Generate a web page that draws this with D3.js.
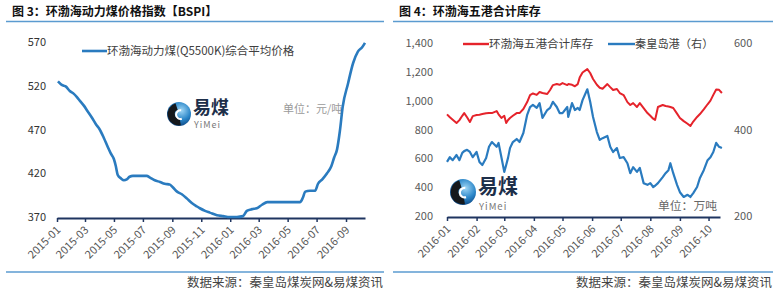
<!DOCTYPE html>
<html>
<head>
<meta charset="utf-8">
<script src="https://cdn.jsdelivr.net/npm/d3@7"></script>
<style>
  html, body { margin: 0; padding: 0; background: #fff; }
  svg { display: block; }
  text { font-family: "Noto Sans CJK SC", "Noto Sans", sans-serif; }
</style>
</head>
<body>
<svg id="chart" width="779" height="295"></svg>
<script>
// ---------------- DATA ----------------
// Figure 3: Bohai-Rim steam coal price index (BSPI), yuan/ton
const bspiDates = [
  "2015-01-03","2015-01-11","2015-01-20","2015-01-28","2015-02-05","2015-02-12","2015-02-18","2015-02-27",
  "2015-03-05","2015-03-15","2015-03-24","2015-04-01","2015-04-10","2015-04-18","2015-04-24","2015-05-01",
  "2015-05-05","2015-05-09","2015-05-16","2015-05-22","2015-05-28","2015-06-03","2015-06-10","2015-06-25",
  "2015-07-09","2015-07-16","2015-07-26","2015-08-06","2015-08-16","2015-08-27","2015-09-02","2015-09-11",
  "2015-09-21","2015-10-02","2015-10-12","2015-10-23","2015-10-29","2015-11-09","2015-11-19","2015-12-04",
  "2015-12-17","2015-12-31","2016-01-15","2016-01-28","2016-02-05","2016-02-16","2016-02-26","2016-03-08",
  "2016-03-19","2016-04-15","2016-05-06","2016-05-27","2016-06-02","2016-06-07","2016-06-17","2016-06-28",
  "2016-07-04","2016-07-13","2016-07-23","2016-08-01","2016-08-07","2016-08-13","2016-08-19","2016-08-25",
  "2016-09-05","2016-09-16","2016-09-26","2016-10-05","2016-10-11"
];
const bspiValues = [
  525,521,519,514,511,507,503,497,
  492,484,476,470,460,450,443,436,
  428,418,414,412,413,416,417,417,
  417,415,412,410,408,407,404,399,
  396,391,386,382,380,377,375,372,
  371,370,370,371,377,379,380,384,
  387,387,387,387,392,399,400,400,
  408,413,420,428,438,447,468,496,
  522,546,559,564,569
];
const bspiYTicks = [370, 420, 470, 520, 570];
const bspiXTicks = ["2015-01","2015-03","2015-05","2015-07","2015-09","2015-11","2016-01","2016-03","2016-05","2016-07","2016-09"];

// Figure 4: port coal stocks, 10k tons
const stockDates = [
  "2016-01-01","2016-01-04","2016-01-07","2016-01-11","2016-01-14","2016-01-17","2016-01-19","2016-01-22",
  "2016-01-25","2016-01-28","2016-02-01","2016-02-04","2016-02-07","2016-02-11","2016-02-14","2016-02-17",
  "2016-02-22","2016-02-24","2016-02-27","2016-03-01","2016-03-03","2016-03-05","2016-03-07","2016-03-10",
  "2016-03-14","2016-03-17","2016-03-21","2016-03-25","2016-03-28","2016-03-31","2016-04-04","2016-04-07",
  "2016-04-10","2016-04-15","2016-04-18","2016-04-21","2016-04-25","2016-04-28","2016-05-01","2016-05-06",
  "2016-05-07","2016-05-11","2016-05-14","2016-05-17","2016-05-19","2016-05-22","2016-05-27","2016-05-30",
  "2016-06-02","2016-06-06","2016-06-09","2016-06-12","2016-06-17","2016-06-20","2016-06-23","2016-06-27",
  "2016-06-30","2016-07-04","2016-07-08","2016-07-11","2016-07-14","2016-07-18","2016-07-21","2016-07-25",
  "2016-07-29","2016-08-01","2016-08-04","2016-08-06","2016-08-09","2016-08-14","2016-08-17","2016-08-20",
  "2016-08-22","2016-08-25","2016-08-29","2016-09-01","2016-09-05","2016-09-09","2016-09-12","2016-09-15",
  "2016-09-19","2016-09-22","2016-09-26","2016-09-30","2016-10-03","2016-10-06","2016-10-09","2016-10-12",
  "2016-10-15"
];
const bohaiStock = [
  905,885,868,845,865,895,914,885,
  852,893,900,903,907,912,914,914,
  928,905,880,895,845,866,880,895,
  914,914,942,990,1039,1050,1040,1060,
  1053,1046,1074,1108,1115,1110,1122,1108,
  1115,1110,1100,1115,1160,1195,1219,1192,
  1150,1110,1090,1083,1115,1094,1074,1081,
  1053,1039,990,970,983,956,983,949,
  914,895,875,866,956,970,963,960,
  956,949,910,880,858,840,824,855,
  887,907,940,975,1000,1040,1078,1075,
  1053
];
const qhdStock = [
  325,336,329,341,329,346,350,353,
  348,336,348,325,318,334,360,371,
  360,369,336,302,318,335,357,371,
  378,371,392,434,452,457,450,461,
  427,445,450,464,452,438,438,452,
  429,461,445,450,445,468,493,464,
  429,394,376,380,385,360,348,357,
  334,336,322,299,313,302,311,276,
  272,276,267,270,276,290,299,306,
  322,299,272,255,244,249,244,253,
  267,288,306,329,336,348,369,360,
  357
];
const stockYTicksLeft = [200, 400, 600, 800, 1000, 1200, 1400];
const stockYTicksRight = [200, 400, 600];
const stockXTicks = ["2016-01","2016-02","2016-03","2016-04","2016-05","2016-06","2016-07","2016-08","2016-09","2016-10"];

// ---------------- DRAW ----------------
const svg = d3.select("#chart");
const parseDay = d3.timeParse("%Y-%m-%d");
const parseMonth = d3.timeParse("%Y-%m");
const fmtMonth = d3.timeFormat("%Y-%m");

const BLUE = "#2a7bbf";
const RED = "#e5232b";
const AXIS = "#1f3560";
const RULE = "#5b9bd0";

const defs = svg.append("defs");
const grad = defs.append("radialGradient").attr("id", "logoGrad")
  .attr("cx", "60%").attr("cy", "35%").attr("r", "70%");
grad.append("stop").attr("offset", "0%").attr("stop-color", "#9fd6f5");
grad.append("stop").attr("offset", "55%").attr("stop-color", "#2b86c8");
grad.append("stop").attr("offset", "100%").attr("stop-color", "#0b3f7a");

// header / footer rules and titles
function frame(x0, x1, title) {
  svg.append("line").attr("x1", x0).attr("x2", x1).attr("y1", 21.5).attr("y2", 21.5)
    .attr("stroke", RULE).attr("stroke-width", 1.6);
  svg.append("line").attr("x1", x0).attr("x2", x1).attr("y1", 272).attr("y2", 272)
    .attr("stroke", RULE).attr("stroke-width", 1.6);
  svg.append("text").attr("x", x0 + 6).attr("y", 16).attr("font-size", 12)
    .attr("font-weight", "bold").attr("fill", "#111").text(title);
  svg.append("text").attr("x", x1 - 1).attr("y", 287).attr("font-size", 12.5)
    .attr("text-anchor", "end").attr("fill", "#444").text("数据来源：秦皇岛煤炭网&易煤资讯");
}
frame(6, 384, "图 3：环渤海动力煤价格指数【BSPI】");
frame(393, 773, "图 4：环渤海五港合计库存");

function logo(cx, cy, r, fs, base1, fs2, base2) {
  const g = svg.append("g");
  g.append("circle").attr("cx", cx).attr("cy", cy).attr("r", r).attr("fill", "url(#logoGrad)");
  const arc = d3.arc();
  g.append("path").attr("transform", `translate(${cx},${cy})`)
    .attr("d", arc({innerRadius: r * 0.35, outerRadius: r * 0.95, startAngle: Math.PI * 0.95, endAngle: Math.PI * 1.9}))
    .attr("fill", "#15181c");
  g.append("path").attr("transform", `translate(${cx + r * 0.12},${cy + r * 0.05})`)
    .attr("d", arc({innerRadius: r * 0.28, outerRadius: r * 0.45, startAngle: Math.PI * 0.9, endAngle: Math.PI * 2.05}))
    .attr("fill", "#ffffff");
  g.append("text").attr("x", cx + r + 2).attr("y", base1).attr("font-size", fs)
    .attr("font-weight", "bold").attr("fill", "#1d2f4a").text("易煤");
  g.append("text").attr("x", cx + r + 3).attr("y", base2).attr("font-size", fs2)
    .attr("font-family", "Liberation Serif, DejaVu Serif, serif").attr("letter-spacing", 1)
    .attr("fill", "#777").text("YiMei");
}

function styleXAxis(g) {
  g.select(".domain").attr("stroke", AXIS).attr("stroke-width", 2);
  g.selectAll(".tick line").attr("stroke", AXIS).attr("stroke-width", 1.5);
  g.selectAll(".tick text")
    .attr("fill", "#555").attr("font-size", 11)
    .attr("text-anchor", "end")
    .attr("x", 0).attr("y", 0).attr("dy", "0.35em")
    .attr("transform", "translate(1,10) rotate(-45)");
}

// ---------- Figure 3 ----------
{
  const x = d3.scaleTime().domain([new Date(2015, 0, 1), new Date(2016, 9, 11)]).range([57, 365]);
  const y = d3.scaleLinear().domain([370, 570]).range([217, 42]);

  const yAxis = svg.append("g").attr("transform", "translate(46,0)")
    .call(d3.axisLeft(y).tickValues(bspiYTicks).tickSize(0).tickPadding(0));
  yAxis.select(".domain").remove();
  yAxis.selectAll("text").attr("font-size", 11).attr("fill", "#333");

  svg.append("text").attr("x", 283).attr("y", 113).attr("font-size", 11).attr("fill", "#9a9a9a").text("单位：元/吨");
  logo(179, 114, 12, 18, 114, 9, 127.5);

  const xAxis = svg.append("g").attr("transform", "translate(0,218)")
    .call(d3.axisBottom(x).tickValues(bspiXTicks.map(parseMonth)).tickFormat(fmtMonth).tickSize(4).tickSizeOuter(0));
  styleXAxis(xAxis);

  const line = d3.line().x((d, i) => x(parseDay(bspiDates[i]))).y(d => y(d)).curve(d3.curveMonotoneX);
  svg.append("path").datum(bspiValues).attr("d", line)
    .attr("fill", "none").attr("stroke", BLUE).attr("stroke-width", 2.6).attr("stroke-linejoin", "round");

  // legend
  svg.append("line").attr("x1", 82).attr("x2", 107).attr("y1", 51).attr("y2", 51).attr("stroke", BLUE).attr("stroke-width", 2.6);
  svg.append("text").attr("x", 107).attr("y", 55).attr("font-size", 11.5).attr("fill", "#404040").text("环渤海动力煤(Q5500K)综合平均价格");
}

// ---------- Figure 4 ----------
{
  const x = d3.scaleTime().domain([new Date(2016, 0, 1), new Date(2016, 9, 13)]).range([447, 720]);
  const yL = d3.scaleLinear().domain([200, 1400]).range([216, 43]);
  const yR = d3.scaleLinear().domain([200, 600]).range([216, 43]);

  const yAxisL = svg.append("g").attr("transform", "translate(433,0)")
    .call(d3.axisLeft(yL).tickValues(stockYTicksLeft).tickFormat(d3.format(",")).tickSize(0).tickPadding(0));
  yAxisL.select(".domain").remove();
  yAxisL.selectAll("text").attr("font-size", 11).attr("fill", "#595959");

  const yAxisR = svg.append("g").attr("transform", "translate(734,0)")
    .call(d3.axisRight(yR).tickValues(stockYTicksRight).tickSize(0).tickPadding(0));
  yAxisR.select(".domain").remove();
  yAxisR.selectAll("text").attr("font-size", 11).attr("fill", "#595959");

  logo(463, 192, 13, 20, 194, 9.5, 209.5);
  svg.append("text").attr("x", 658).attr("y", 210).attr("font-size", 11.8).attr("fill", "#666").text("单位：万吨");

  const xAxis = svg.append("g").attr("transform", "translate(0,217)")
    .call(d3.axisBottom(x).tickValues(stockXTicks.map(parseMonth)).tickFormat(fmtMonth).tickSize(4).tickSizeOuter(0));
  styleXAxis(xAxis);

  const lineL = d3.line().x((d, i) => x(parseDay(stockDates[i]))).y(d => yL(d));
  const lineR = d3.line().x((d, i) => x(parseDay(stockDates[i]))).y(d => yR(d));
  svg.append("path").datum(bohaiStock).attr("d", lineL)
    .attr("fill", "none").attr("stroke", RED).attr("stroke-width", 2).attr("stroke-linejoin", "round");
  svg.append("path").datum(qhdStock).attr("d", lineR)
    .attr("fill", "none").attr("stroke", BLUE).attr("stroke-width", 2.2).attr("stroke-linejoin", "round");

  // legend
  svg.append("line").attr("x1", 463).attr("x2", 489).attr("y1", 44).attr("y2", 44).attr("stroke", RED).attr("stroke-width", 2.4);
  svg.append("text").attr("x", 489).attr("y", 48).attr("font-size", 11.6).attr("fill", "#404040").text("环渤海五港合计库存");
  svg.append("line").attr("x1", 608).attr("x2", 635).attr("y1", 44).attr("y2", 44).attr("stroke", BLUE).attr("stroke-width", 2.4);
  svg.append("text").attr("x", 635).attr("y", 48).attr("font-size", 11.2).attr("fill", "#404040").text("秦皇岛港（右）");
}
</script>
</body>
</html>
